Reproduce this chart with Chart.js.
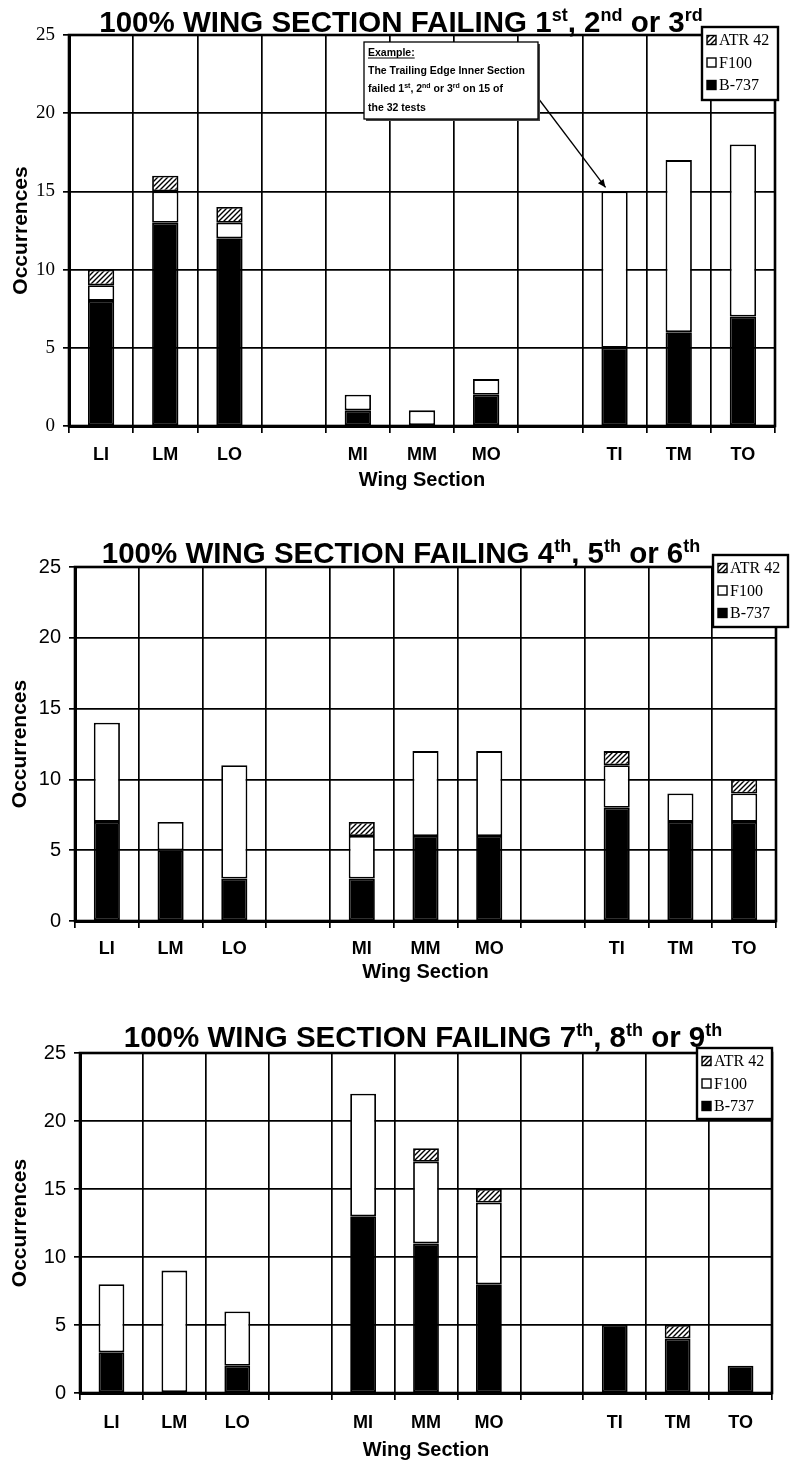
<!DOCTYPE html>
<html><head><meta charset="utf-8">
<script src="https://cdn.jsdelivr.net/npm/chart.js@4/dist/chart.umd.min.js"></script>
<style>
html,body{margin:0;padding:0;background:#fff;width:790px;height:1462px;overflow:hidden}
canvas{position:absolute;left:0}
</style></head><body>
<canvas id="c1" width="790" height="492" style="top:0px"></canvas>
<canvas id="c2" width="790" height="464" style="top:520px"></canvas>
<canvas id="c3" width="790" height="452" style="top:1010px"></canvas>
<script>
// ---------- DATA ----------
const categories = ['LI','LM','LO','','MI','MM','MO','','TI','TM','TO'];
const seriesNames = ['B-737','F100','ATR 42'];
const yTicks = [0,5,10,15,20,25];
const xTitle = 'Wing Section';
const yTitle = 'Occurrences';

// Failing 1st, 2nd or 3rd
const b737_123  = [8,13,12,null,1,0,2,null,5,6,7];
const f100_123  = [1,2,1,null,1,1,1,null,10,11,11];
const atr42_123 = [1,1,1,null,0,0,0,null,0,0,0];
// Failing 4th, 5th or 6th
const b737_456  = [7,5,3,null,3,6,6,null,8,7,7];
const f100_456  = [7,2,8,null,3,6,6,null,3,2,2];
const atr42_456 = [0,0,0,null,1,0,0,null,1,0,1];
// Failing 7th, 8th or 9th
const b737_789  = [3,0,2,null,13,11,8,null,5,4,2];
const f100_789  = [5,9,4,null,9,6,6,null,0,0,0];
const atr42_789 = [0,0,0,null,0,1,1,null,0,1,0];

const title123 = [['100% WING SECTION FAILING 1',0],['st',1],[', 2',0],['nd',1],[' or 3',0],['rd',1]];
const title456 = [['100% WING SECTION FAILING 4',0],['th',1],[', 5',0],['th',1],[' or 6',0],['th',1]];
const title789 = [['100% WING SECTION FAILING 7',0],['th',1],[', 8',0],['th',1],[' or 9',0],['th',1]];

const noteLines = [
  [['Example:',0]],
  [['The Trailing Edge Inner Section',0]],
  [['failed 1',0],['st',1],[', 2',0],['nd',1],[' or 3',0],['rd',1],[' on 15 of',0]],
  [['the 32 tests',0]]
];
const noteTarget = {index: 8, value: 15};

// ---------- HELPERS ----------
const SANS = '"Liberation Sans", Arial, Helvetica, sans-serif';
const SERIF = '"Liberation Serif", "Times New Roman", serif';

function makeHatch(ctx){
  const c = document.createElement('canvas'); c.width = 5; c.height = 5;
  const x = c.getContext('2d');
  x.fillStyle = '#fff'; x.fillRect(0,0,5,5);
  x.strokeStyle = '#000'; x.lineWidth = 1.4;
  x.beginPath();
  x.moveTo(-1,6); x.lineTo(6,-1);
  x.moveTo(-1,1); x.lineTo(1,-1);
  x.moveTo(4,6); x.lineTo(6,4);
  x.stroke();
  return ctx.createPattern(c,'repeat');
}

function drawSegs(ctx, segs, x, baseline, bigFont, smallFont, raise){
  segs.forEach(([t,s]) => {
    ctx.font = s ? smallFont : bigFont;
    ctx.fillText(t, x, s ? baseline - raise : baseline);
    x += ctx.measureText(t).width;
  });
  return x;
}
function segsWidth(ctx, segs, bigFont, smallFont){
  let w = 0;
  segs.forEach(([t,s]) => { ctx.font = s ? smallFont : bigFont; w += ctx.measureText(t).width; });
  return w;
}

function makeChart(id, cfg){
  const canvas = document.getElementById(id);
  const ctx = canvas.getContext('2d');
  const hatch = makeHatch(ctx);
  const barOpts = {borderColor:'#000', borderWidth:1.8, borderSkipped:false, barPercentage:0.41, categoryPercentage:1};
  const datasets = [
    Object.assign({label: seriesNames[0], data: cfg.b737, backgroundColor:'#000'}, barOpts),
    Object.assign({label: seriesNames[1], data: cfg.f100, backgroundColor:'#fff'}, barOpts),
    Object.assign({label: seriesNames[2], data: cfg.atr, backgroundColor: hatch}, barOpts)
  ];
  const deco = {
    id: 'deco',
    afterDatasetsDraw(chart){
      const c = chart.ctx, a = chart.chartArea;
      c.save(); c.strokeStyle = '#000'; c.lineWidth = 2.6;
      c.strokeRect(a.left, a.top, a.right - a.left, a.bottom - a.top);
      c.restore();
    },
    afterDraw(chart){
      const c = chart.ctx;
      c.save();
      // annotation
      if (cfg.note){
        const n = cfg.note;
        const xs = chart.scales.x, ys = chart.scales.y;
        const tx = xs.getPixelForValue(noteTarget.index) - 9;
        const ty = ys.getPixelForValue(noteTarget.value) - 4;
        c.strokeStyle = '#000'; c.lineWidth = 1.3;
        c.beginPath(); c.moveTo(n.x + n.w, n.y + 56); c.lineTo(tx, ty); c.stroke();
        const ang = Math.atan2(ty - (n.y + 56), tx - (n.x + n.w));
        c.fillStyle = '#000';
        c.beginPath(); c.moveTo(tx, ty);
        c.lineTo(tx - 8*Math.cos(ang) + 3.5*Math.sin(ang), ty - 8*Math.sin(ang) - 3.5*Math.cos(ang));
        c.lineTo(tx - 8*Math.cos(ang) - 3.5*Math.sin(ang), ty - 8*Math.sin(ang) + 3.5*Math.cos(ang));
        c.closePath(); c.fill();
        c.fillStyle = '#444'; c.fillRect(n.x + 2, n.y + 2, n.w, n.h);
        c.fillStyle = '#fff'; c.fillRect(n.x, n.y, n.w, n.h);
        c.lineWidth = 1.3; c.strokeRect(n.x, n.y, n.w, n.h);
        c.fillStyle = '#000'; c.textAlign = 'left'; c.textBaseline = 'alphabetic';
        const bf = 'bold 10.5px ' + SANS, sf = 'bold 7px ' + SANS;
        noteLines.forEach((segs, i) => {
          const by = n.y + 14 + i * 18.2;
          const end = drawSegs(c, segs, n.x + 4, by, bf, sf, 4);
          if (i === 0){ c.lineWidth = 1; c.beginPath(); c.moveTo(n.x + 4, by + 2); c.lineTo(end, by + 2); c.stroke(); }
        });
      }
      // legend
      const L = cfg.legend;
      c.fillStyle = '#fff'; c.fillRect(L.x, L.y, L.w, L.h);
      c.strokeStyle = '#000'; c.lineWidth = 2.4; c.strokeRect(L.x, L.y, L.w, L.h);
      c.font = '16px ' + SERIF; c.textBaseline = 'middle'; c.textAlign = 'left';
      chart.data.datasets.slice().reverse().forEach((d, i) => {
        const ry = L.y + 13 + i * 22.5;
        c.fillStyle = d.backgroundColor; c.fillRect(L.x + 5, ry - 4.5, 9, 9);
        c.lineWidth = 1.4; c.strokeRect(L.x + 5, ry - 4.5, 9, 9);
        c.fillStyle = '#000'; c.fillText(d.label, L.x + 17, ry + 1);
      });
      // title
      const big = 'bold 29.5px ' + SANS, small = 'bold 18px ' + SANS;
      const w = segsWidth(c, cfg.title, big, small);
      c.fillStyle = '#000'; c.textBaseline = 'alphabetic';
      drawSegs(c, cfg.title, cfg.titleCx - w/2, cfg.titleBase, big, small, 11);
      c.restore();
    }
  };
  return new Chart(ctx, {
    type: 'bar',
    data: {labels: categories, datasets},
    options: {
      responsive: false, animation: false,
      layout: {padding: {top: cfg.padTop, right: cfg.padRight, left: 0, bottom: 0}},
      plugins: {legend: {display: false}, tooltip: {enabled: false}, title: {display: false}},
      scales: {
        x: {
          stacked: true, offset: true,
          grid: {offset: true, color: '#000', lineWidth: 1.7, tickLength: 7, tickColor: '#000'},
          border: {display: true, color: '#000', width: 3},
          ticks: {color: '#000', font: {family: SANS, size: 18, weight: 'bold'}, padding: cfg.xTickPad, maxRotation: 0, autoSkip: false},
          title: {display: true, text: xTitle, color: '#000', font: {family: SANS, size: 20, weight: 'bold'}, padding: {top: 0, bottom: 0}},
          afterFit: s => { s.height = cfg.xH; }
        },
        y: {
          stacked: true, min: 0, max: 25,
          afterBuildTicks: s => { s.ticks = yTicks.map(v => ({value: v})); },
          grid: {color: '#000', lineWidth: 1.7, tickLength: 6, tickColor: '#000'},
          border: {display: true, color: '#000', width: 3},
          ticks: {color: '#000', font: cfg.yFont, padding: 8},
          title: {display: true, text: yTitle, color: '#000', font: {family: SANS, size: 21, weight: 'bold'}, padding: {top: cfg.yTitlePad, bottom: 0}},
          afterFit: s => { s.width = cfg.yW; }
        }
      }
    },
    plugins: [deco]
  });
}

makeChart('c1', {
  b737: b737_123, f100: f100_123, atr: atr42_123, title: title123,
  padTop: 35, padRight: 15, yW: 69, xH: 66, xTickPad: 11, yTitlePad: 9,
  yFont: {family: SERIF, size: 19},
  titleCx: 401, titleBase: 32,
  legend: {x: 702, y: 27, w: 76, h: 73},
  note: {x: 364, y: 42, w: 174, h: 77}
});
makeChart('c2', {
  b737: b737_456, f100: f100_456, atr: atr42_456, title: title456,
  padTop: 47, padRight: 14, yW: 75, xH: 63, xTickPad: 10, yTitlePad: 8,
  yFont: {family: SANS, size: 20},
  titleCx: 401, titleBase: 43,
  legend: {x: 713, y: 35, w: 75, h: 72}
});
makeChart('c3', {
  b737: b737_789, f100: f100_789, atr: atr42_789, title: title789,
  padTop: 43, padRight: 18, yW: 80, xH: 69, xTickPad: 12, yTitlePad: 8,
  yFont: {family: SANS, size: 20},
  titleCx: 423, titleBase: 37,
  legend: {x: 697, y: 38, w: 75, h: 71}
});
</script>
</body></html>
